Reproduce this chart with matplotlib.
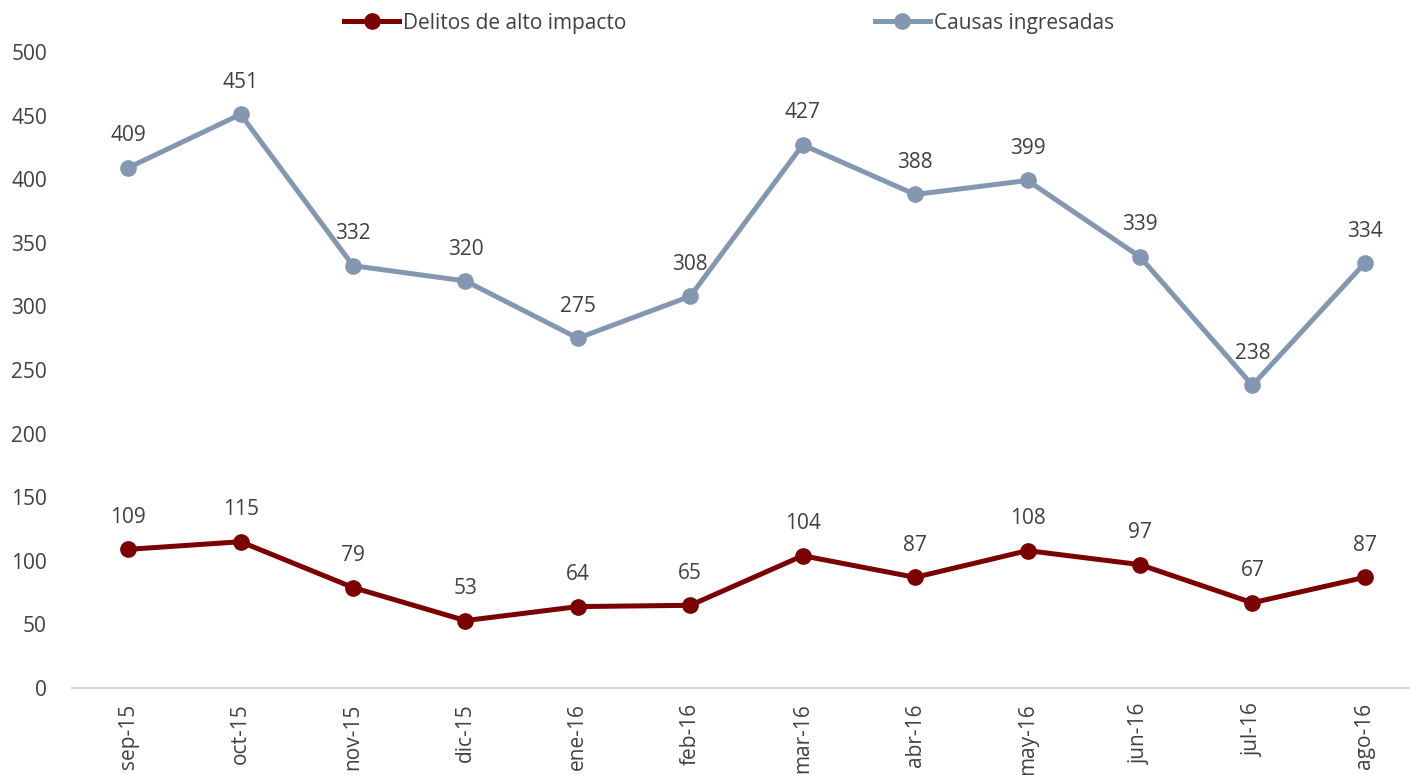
import matplotlib
matplotlib.use("Agg")
import matplotlib.pyplot as plt
from matplotlib.lines import Line2D

plt.rcParams['font.family'] = ['Open Sans', 'DejaVu Sans']

months = ["sep-15", "oct-15", "nov-15", "dic-15", "ene-16", "feb-16",
          "mar-16", "abr-16", "may-16", "jun-16", "jul-16", "ago-16"]
delitos = [109, 115, 79, 53, 64, 65, 104, 87, 108, 97, 67, 87]
causas = [409, 451, 332, 320, 275, 308, 427, 388, 399, 339, 238, 334]

c_del = "#7B0000"
c_cau = "#8497B0"
txt = "#404040"
fs = 15

fig = plt.figure(figsize=(14.1, 7.75), dpi=100)
ax = fig.add_axes([72/1410, 87/775, (1421-72)/1410, (688-52)/775])

x = list(range(len(months)))
ax.plot(x, delitos, color=c_del, lw=3.6, marker='o', ms=11, solid_capstyle='round')
ax.plot(x, causas, color=c_cau, lw=3.6, marker='o', ms=11, solid_capstyle='round')

for series in (delitos, causas):
    for xi, v in zip(x, series):
        ax.annotate(str(v), (xi, v), xytext=(0, 23), textcoords='offset points',
                    ha='center', va='center', fontsize=fs, color=txt)

ax.set_xlim(-0.5, 11.5)
ax.set_ylim(0, 500)
ax.set_yticks(range(0, 501, 50))
ax.set_xticks(x)
ax.set_xticklabels(months, rotation=90)
ax.tick_params(axis='both', length=0, labelsize=fs, labelcolor=txt)
ax.tick_params(axis='y', pad=18)
ax.tick_params(axis='x', pad=11)
for s in ['top', 'right', 'left']:
    ax.spines[s].set_visible(False)
ax.spines['bottom'].set_color('#D9D9D9')
ax.spines['bottom'].set_linewidth(1.5)

handles = [Line2D([0], [0], color=c_del, lw=3.6, marker='o', ms=11),
           Line2D([0], [0], color=c_cau, lw=3.6, marker='o', ms=11)]
fig.legend(handles, ["Delitos de alto impacto", "Causas ingresadas"],
           loc='center', bbox_to_anchor=(729/1410, 1 - 23/775), ncol=2,
           frameon=False, fontsize=fs, handlelength=2.65, handletextpad=0.2,
           columnspacing=11.9, labelcolor=txt)

fig.savefig("out.png", dpi=100)
